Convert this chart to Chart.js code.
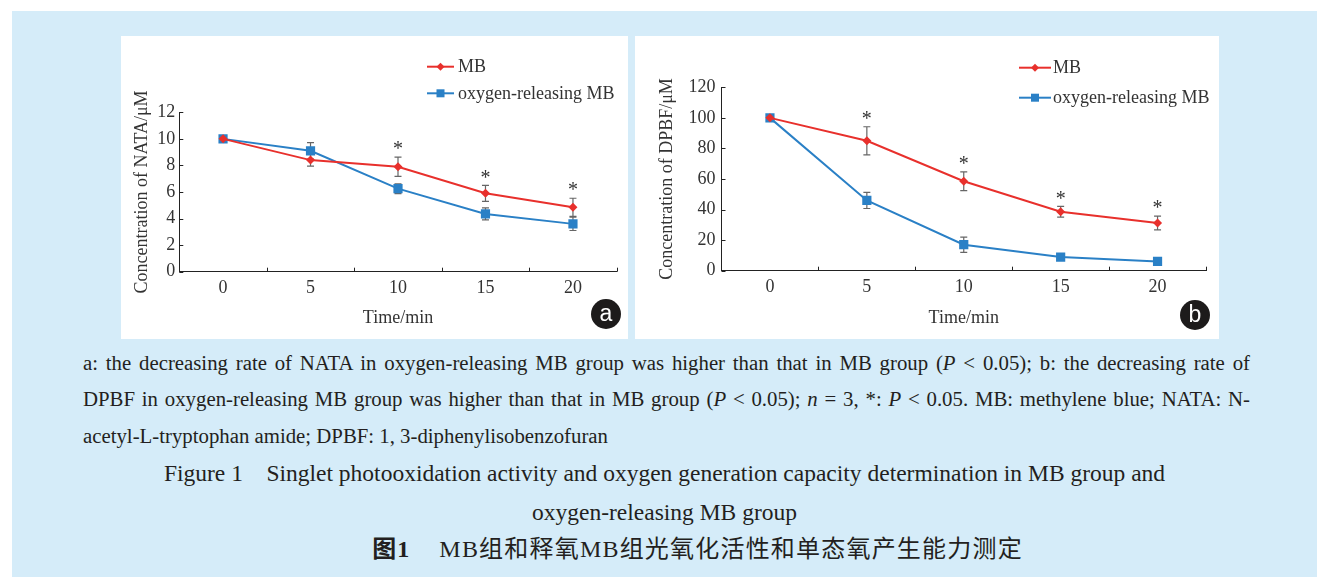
<!DOCTYPE html>
<html>
<head>
<meta charset="utf-8">
<script src="https://cdn.jsdelivr.net/npm/chart.js@4/dist/chart.umd.min.js"></script>
<style>
  body { margin: 0; background: #fff; width: 1317px; height: 577px; overflow: hidden; position: relative;
         font-family: 'Liberation Serif', 'Times New Roman', serif; color: #231f20; }
  #bg { position: absolute; left: 12px; top: 11px; width: 1305px; height: 566px; background: #d5ecf9; }
  .panel { position: absolute; background: #fff; }
  .panel canvas { position: absolute; left: 0; top: 0; }
  .badge { position: absolute; width: 30px; height: 30px; border-radius: 50%; background: #1d1b1b; color: #fff;
           font-family: 'Liberation Sans', Arial, sans-serif; font-size: 23px; line-height: 28px; text-align: center; }
  .cap { position: absolute; left: 83px; font-size: 20.8px; line-height: 22px; white-space: nowrap; }
  .title { position: absolute; left: 12px; width: 1305px; text-align: center; font-size: 23.5px; line-height: 24px; white-space: nowrap; }
  .cn { left: 45px; font-family: 'Liberation Serif', 'Noto Sans CJK SC', serif; font-size: 24px; letter-spacing: 1.2px; }
</style>
</head>
<body>
<div id="bg"></div>
<div class="panel" style="left:121px;top:36px;width:507px;height:303px">
  <canvas id="chartA" width="507" height="303"></canvas>
  <div class="badge" style="left:470px;top:263px">a</div>
</div>
<div class="panel" style="left:635px;top:36px;width:584px;height:303px">
  <canvas id="chartB" width="584" height="303"></canvas>
  <div class="badge" style="left:545px;top:264px">b</div>
</div>

<div class="cap just" style="top:352px">a: the decreasing rate of NATA in oxygen-releasing MB group was higher than that in MB group (<i>P</i> &lt; 0.05); b: the decreasing rate of</div>
<div class="cap just" style="top:388px">DPBF in oxygen-releasing MB group was higher than that in MB group (<i>P</i> &lt; 0.05); <i>n</i> = 3, *: <i>P</i> &lt; 0.05. MB: methylene blue; NATA: N-</div>
<div class="cap" style="top:425px">acetyl-L-tryptophan amide; DPBF: 1, 3-diphenylisobenzofuran</div>
<div class="title" style="top:461px">Figure 1&nbsp;&nbsp;&nbsp;&nbsp;Singlet photooxidation activity and oxygen generation capacity determination in MB group and</div>
<div class="title" style="top:500px">oxygen-releasing MB group</div>
<div class="title cn" style="top:537px"><b>图1</b>&nbsp;&nbsp;&nbsp;&nbsp;MB组和释氧MB组光氧化活性和单态氧产生能力测定</div>

<script>
// time points (min)
const times = ['0', '5', '10', '15', '20'];

// panel a: NATA concentration (uM)
const nataMB = [10, 8.4, 7.9, 5.9, 4.85];
const nataMBErr = [0, 0.45, 0.72, 0.6, 0.68];
const nataOxy = [10, 9.1, 6.25, 4.35, 3.6];
const nataOxyErr = [0, 0.62, 0.37, 0.45, 0.5];
const nataSig = [false, false, true, true, true];

// panel b: DPBF concentration (uM)
const dpbfMB = [100, 85, 58.5, 38.6, 31.2];
const dpbfMBErr = [0, 9.2, 6.1, 3.5, 4.5];
const dpbfOxy = [100, 46, 17, 8.9, 6.1];
const dpbfOxyErr = [0, 5.3, 5, 1.2, 0.8];
const dpbfSig = [false, true, true, true, true];

const seriesNames = ['MB', 'oxygen-releasing MB'];
const RED = '#e8302c';
const BLUE = '#2a80c6';
const FONT = "'Liberation Serif', 'Times New Roman', serif";
const TEXT = '#333';
const FS = 18;

// stretch the first two caption lines to the full width
document.querySelectorAll('.just').forEach(el => {
  const spaces = (el.textContent.match(/ /g) || []).length;
  const w = el.getBoundingClientRect().width;
  el.style.wordSpacing = ((1167 - w) / spaces) + 'px';
});

function diamond(ctx, x, y, r) {
  ctx.beginPath();
  ctx.moveTo(x, y - r); ctx.lineTo(x + r, y); ctx.lineTo(x, y + r); ctx.lineTo(x - r, y);
  ctx.closePath(); ctx.fill();
}

const decor = {
  id: 'decor',
  beforeDatasetsDraw(chart) {
    const ctx = chart.ctx, xs = chart.scales.x, ys = chart.scales.y;
    ctx.save();
    ctx.strokeStyle = '#666';
    ctx.lineWidth = 1.2;
    chart.data.datasets.forEach(ds => {
      ds.data.forEach((v, i) => {
        const e = ds.errors[i];
        if (!e) return;
        const x = xs.getPixelForValue(i);
        const y1 = ys.getPixelForValue(v + e), y2 = ys.getPixelForValue(v - e);
        ctx.beginPath();
        ctx.moveTo(x, y1); ctx.lineTo(x, y2);
        ctx.moveTo(x - 3.5, y1); ctx.lineTo(x + 3.5, y1);
        ctx.moveTo(x - 3.5, y2); ctx.lineTo(x + 3.5, y2);
        ctx.stroke();
      });
    });
    ctx.restore();
  },
  afterDatasetsDraw(chart, args, opts) {
    const ctx = chart.ctx, xs = chart.scales.x, ys = chart.scales.y, area = chart.chartArea;
    ctx.save();
    // significance asterisks above MB error bars
    const mb = chart.data.datasets[0];
    ctx.fillStyle = TEXT;
    ctx.font = '20px ' + FONT;
    ctx.textAlign = 'center';
    ctx.textBaseline = 'middle';
    opts.sig.forEach((s, i) => {
      if (!s) return;
      const y = ys.getPixelForValue(mb.data[i] + mb.errors[i]);
      ctx.fillText('*', xs.getPixelForValue(i), y - 7);
    });
    // inward tick marks
    ctx.strokeStyle = '#222';
    ctx.lineWidth = 1;
    ctx.beginPath();
    ys.ticks.forEach(t => {
      const y = Math.round(ys.getPixelForValue(t.value)) + 0.5;
      ctx.moveTo(area.left, y); ctx.lineTo(area.left + 4, y);
    });
    const w = xs.getPixelForValue(1) - xs.getPixelForValue(0);
    for (let i = 0; i <= chart.data.labels.length; i++) {
      const x = Math.round(xs.getPixelForValue(i) - w / 2) + 0.5;
      ctx.moveTo(x, area.bottom); ctx.lineTo(x, area.bottom - 4);
    }
    ctx.stroke();
    // legend
    const L = opts.legend;
    chart.data.datasets.forEach((ds, k) => {
      const y = L.rows[k];
      ctx.strokeStyle = ds.borderColor;
      ctx.fillStyle = ds.borderColor;
      ctx.lineWidth = 2;
      ctx.beginPath(); ctx.moveTo(L.x1, y); ctx.lineTo(L.x2, y); ctx.stroke();
      const cx = (L.x1 + L.x2) / 2;
      if (k === 0) diamond(ctx, cx, y, 4);
      else ctx.fillRect(cx - 4, y - 4, 8, 8);
      ctx.fillStyle = TEXT;
      ctx.font = FS + 'px ' + FONT;
      ctx.textAlign = 'left';
      ctx.textBaseline = 'middle';
      ctx.fillText(ds.label, L.textX, y + 1);
    });
    ctx.restore();
  }
};

function makeChart(id, mb, mbErr, oxy, oxyErr, sig, yMax, yStep, yTitle, box) {
  new Chart(document.getElementById(id), {
    type: 'line',
    data: {
      labels: times,
      datasets: [
        { label: seriesNames[0], data: mb, errors: mbErr, borderColor: RED, backgroundColor: RED,
          borderWidth: 2, pointStyle: 'rectRot', pointRadius: 4.5, pointBorderWidth: 0, tension: 0 },
        { label: seriesNames[1], data: oxy, errors: oxyErr, borderColor: BLUE, backgroundColor: BLUE,
          borderWidth: 2, pointStyle: 'rect', pointRadius: 6.5, pointBorderWidth: 0, tension: 0 }
      ]
    },
    options: {
      responsive: false,
      animation: false,
      layout: { padding: { left: 0, top: box.top, right: box.right, bottom: 0 } },
      plugins: {
        legend: { display: false },
        tooltip: { enabled: false },
        decor: { sig: sig, legend: box.legend }
      },
      scales: {
        x: {
          offset: true,
          grid: { display: false, drawTicks: false },
          border: { display: true, color: '#222', width: 1 },
          ticks: { color: TEXT, font: { family: FONT, size: FS }, padding: 6 },
          title: { display: true, text: 'Time/min', color: TEXT, font: { family: FONT, size: FS },
                   padding: { top: 0, bottom: 10 } },
          afterFit: s => { s.height = box.xH; }
        },
        y: {
          min: 0, max: yMax,
          grid: { display: false, drawTicks: false },
          border: { display: true, color: '#222', width: 1 },
          ticks: { stepSize: yStep, color: TEXT, font: { family: FONT, size: FS }, padding: box.tickPad },
          title: { display: true, text: yTitle, color: TEXT, font: { family: FONT, size: FS },
                   padding: { top: box.titlePad, bottom: 0 } },
          afterFit: s => { s.width = box.yW; }
        }
      }
    },
    plugins: [decor]
  });
}

makeChart('chartA', nataMB, nataMBErr, nataOxy, nataOxyErr, nataSig, 12, 2, 'Concentration of NATA/\u03bcM',
  { top: 76.3, right: 11.3, xH: 67.3, yW: 58.3, tickPad: 4, titlePad: 10,
    legend: { x1: 306, x2: 333, textX: 337, rows: [30.7, 57.3] } });

makeChart('chartB', dpbfMB, dpbfMBErr, dpbfOxy, dpbfOxyErr, dpbfSig, 120, 20, 'Concentration of DPBF/\u03bcM',
  { top: 51.3, right: 13, xH: 68.3, yW: 86.5, tickPad: 6, titlePad: 21,
    legend: { x1: 384, x2: 416, textX: 418, rows: [31.7, 61.7] } });
</script>
</body>
</html>
